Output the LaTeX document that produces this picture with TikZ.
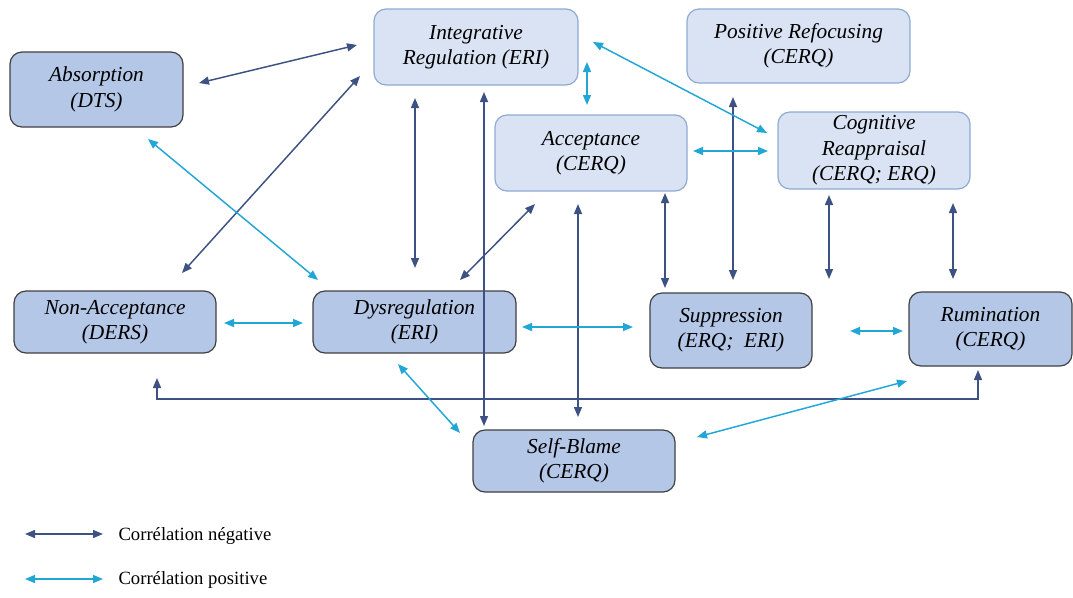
\documentclass[tikz,border=0pt]{standalone}
\usepackage{fontspec}
\setmainfont{Liberation Serif}
\usetikzlibrary{arrows.meta,calc}

\definecolor{darkfill}{RGB}{180,199,231}
\definecolor{lightfill}{RGB}{218,227,243}
\definecolor{darkline}{RGB}{64,64,64}
\definecolor{lightline}{RGB}{143,170,210}
\definecolor{negcol}{RGB}{61,82,130}
\definecolor{poscol}{RGB}{33,166,214}

\tikzset{every picture/.style={line width=0.75pt},
  box/.style={rounded corners=9pt, inner sep=0pt, outer sep=0pt, align=center, line width=0.9pt,
    font=\fontsize{16}{19}\selectfont\itshape},
  darkbox/.style={box, draw=darkline, fill=darkfill},
  lightbox/.style={box, draw=lightline, fill=lightfill},
  negcor/.style={draw=negcol, line width=1.1pt, {Triangle[length=7.5pt,width=6pt]}-{Triangle[length=7.5pt,width=6pt]}},
  poscor/.style={draw=poscol, line width=1.1pt, {Triangle[length=7.5pt,width=6pt]}-{Triangle[length=7.5pt,width=6pt]}},
  legtext/.style={anchor=west, inner sep=0pt, font=\fontsize{14}{16}\selectfont}
}

\begin{document}
\begin{tikzpicture}[x=0.75pt,y=0.75pt,yscale=-1,xscale=1]
	\useasboundingbox (0,0) rectangle (1073,597);

	%Shapes: upper row
	\node[darkbox, minimum width=129.75pt, minimum height=56.25pt] (absorp) at (96.5,89.5) {Absorption\\(DTS)};
	\node[lightbox, minimum width=153pt, minimum height=57pt] (intreg) at (476,47) {Integrative\\Regulation (ERI)};
	\node[lightbox, minimum width=167.25pt, minimum height=55.5pt] (posref) at (798.5,46) {Positive Refocusing\\(CERQ)};
	\node[lightbox, minimum width=144pt, minimum height=57pt] (accept) at (591,153) {Acceptance\\(CERQ)};
	\node[lightbox, minimum width=144pt, minimum height=57.75pt] (cogreap) at (874,150.5) {Cognitive\\Reappraisal\\(CERQ; ERQ)};
	%Shapes: lower row
	\node[darkbox, minimum width=151.5pt, minimum height=46.5pt] (nonacc) at (115,322) {Non-Acceptance\\(DERS)};
	\node[darkbox, minimum width=152.25pt, minimum height=46.5pt] (dysreg) at (414.5,322) {Dysregulation\\(ERI)};
	\node[darkbox, minimum width=121.5pt, minimum height=56.25pt] (suppr) at (731,330.5) {Suppression\\(ERQ;\ \ ERI)};
	\node[darkbox, minimum width=122.25pt, minimum height=55.5pt] (rumin) at (990.5,329) {Rumination\\(CERQ)};
	\node[darkbox, minimum width=151.5pt, minimum height=46.5pt] (selfbl) at (574,461) {Self-Blame\\(CERQ)};

	%Negative correlations
	\draw[negcor] ($(absorp.east)+(16,-6.5)$) -- ($(intreg.west)+(-17,-2)$);
	\draw[negcor] ($(nonacc.north)+(67,-18)$) -- ($(intreg.south west)+(-14,-9)$);
	\draw[negcor] ($(intreg.south)+(-61,13)$) -- ($(dysreg.north)+(0.5,-23)$);
	\draw[negcor] ($(intreg.south)+(8,7)$) -- ($(selfbl.north)+(-90,-4)$);
	\draw[negcor] ($(dysreg.north)+(45.5,-11)$) -- ($(accept.south)+(-56,13)$);
	\draw[negcor] ($(accept.south)+(-13,13)$) -- ($(selfbl.north)+(4,-13)$);
	\draw[negcor] ($(accept.south east)+(-22,2)$) -- ($(suppr.north west)+(15,-5)$);
	\draw[negcor] ($(posref.south)+(-65.5,14)$) -- ($(suppr.north)+(2,-13)$);
	\draw[negcor] ($(cogreap.south)+(-45,6)$) -- ($(suppr.north east)+(17,-14)$);
	\draw[negcor] ($(cogreap.south east)+(-17,14)$) -- ($(rumin.north)+(-37.5,-13)$);
	\draw[negcor] ($(rumin.south)+(-12.5,4)$) -- ++(0,29) -| ($(nonacc.south)+(42,25)$);

	%Positive correlations
	\draw[poscor] ($(absorp.south)+(51.5,12)$) -- ($(dysreg.north west)+(5,-11)$);
	\draw[poscor] ($(intreg.east)+(9,15)$) -- ($(accept.north)+(-4,-10)$);
	\draw[poscor] ($(intreg.east)+(15,-5)$) -- ($(cogreap.west)+(-11,-17.5)$);
	\draw[poscor] ($(accept.east)+(6,-2)$) -- ($(cogreap.west)+(-10,0.5)$);
	\draw[poscor] ($(nonacc.east)+(8,1)$) -- ($(dysreg.west)+(-10,1)$);
	\draw[poscor] ($(dysreg.east)+(6,5)$) -- ($(suppr.west)+(-17,-3.5)$);
	\draw[poscor] ($(suppr.east)+(38,0.5)$) -- ($(rumin.west)+(-6,2)$);
	\draw[poscor] ($(dysreg.south)+(-16.5,11)$) -- ($(selfbl.west)+(-13,-28)$);
	\draw[poscor] ($(selfbl.east)+(22,-24)$) -- ($(rumin.south west)+(-2,15)$);

	% Legend
	\node[legtext] (legneg) at (118,536) {Corrélation négative};
	\node[legtext] (legpos) at (118,580) {Corrélation positive};
	\draw[negcor] ($(legneg.west)+(-93,-2)$) -- ($(legneg.west)+(-15,-2)$);
	\draw[poscor] ($(legpos.west)+(-93,-1)$) -- ($(legpos.west)+(-15,-1)$);

\end{tikzpicture}
\end{document}
